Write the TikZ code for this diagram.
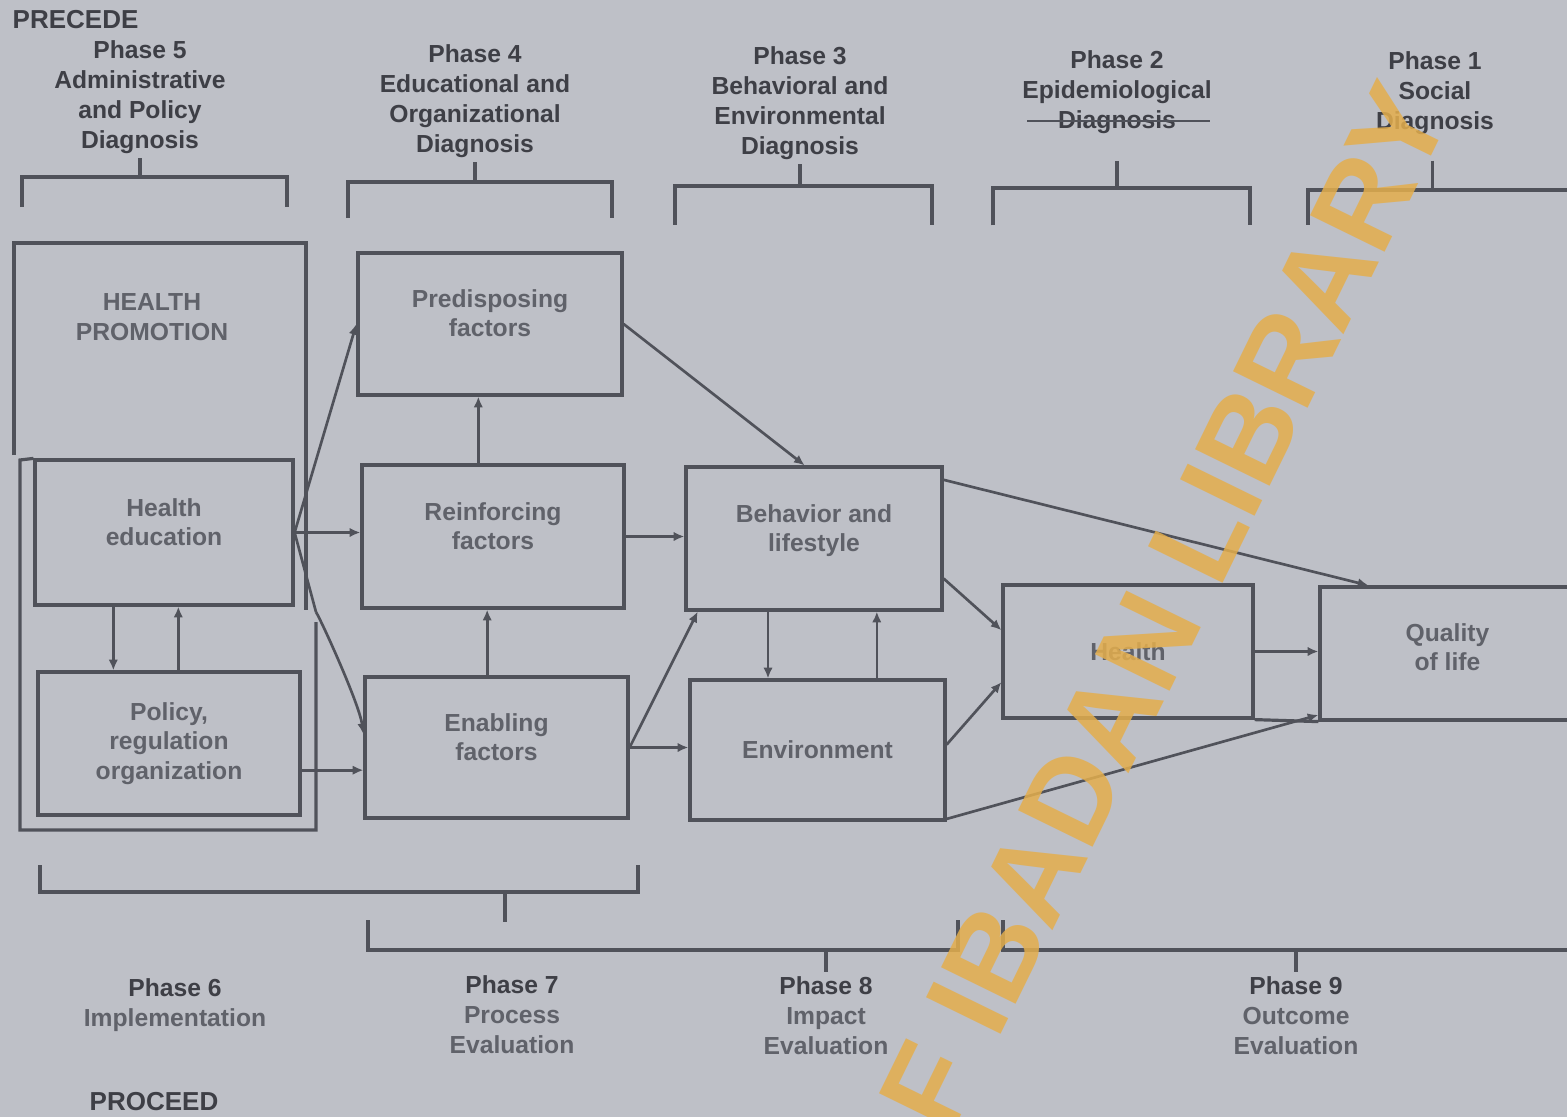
\documentclass[tikz,border=0pt]{standalone}
\usepackage{fontspec}
\setmainfont{Liberation Sans}
\usepackage{tikz}
\usetikzlibrary{positioning,arrows.meta}
\definecolor{bgc}{RGB}{190,192,199}
\definecolor{lnc}{RGB}{80,82,90}
\definecolor{txc}{RGB}{62,63,70}
\definecolor{txl}{RGB}{96,98,106}
\definecolor{wmc}{RGB}{228,174,76}

\begin{document}
\begin{tikzpicture}[x=0.75pt,y=0.75pt,yscale=-1,xscale=1,
  box/.style={draw=lnc,line width=2.4pt,text=txl,align=center,inner sep=0pt,font=\bfseries\fontsize{18.5}{22}\selectfont},
  lifted/.style={text depth=16pt},
  phase/.style={text=txc,align=center,font=\bfseries\fontsize{18.5}{22.5}\selectfont},
  bracket/.style={draw=lnc,line width=2.6pt},
  conn/.style={draw=lnc,line width=2pt,-{Latex[length=8pt,width=7pt]}},
  plain/.style={draw=lnc,line width=2pt},
  wmark/.style={text=wmc,opacity=0.85,inner sep=0pt,font=\bfseries\fontsize{90.5}{90.5}\selectfont}]
\useasboundingbox (0,0) rectangle (1567,1117);
\clip (0,0) rectangle (1567,1117);
\fill[bgc] (0,0) rectangle (1567,1117);

% Text Node
\node (precede) at (8,20) [phase,anchor=west,font=\bfseries\fontsize{19.5}{22}\selectfont] {PRECEDE};
% Text Node
\node (proceed) at (85,1102) [phase,anchor=west,font=\bfseries\fontsize{19.5}{22}\selectfont] {PROCEED};

% Text Node
\node (ph5) at (140,97) [phase] {Phase 5\\Administrative\\and Policy\\Diagnosis};
% Text Node
\node (ph4) at (475,101) [phase] {Phase 4\\Educational and\\Organizational\\Diagnosis};
% Text Node
\node (ph3) at (800,103) [phase] {Phase 3\\Behavioral and\\Environmental\\Diagnosis};
% Text Node
\node (ph2) at (1117,92) [phase] {Phase 2\\Epidemiological\\Diagnosis};
% Text Node
\node (ph1) at (1435,93) [phase] {Phase 1\\Social\\Diagnosis};

%Straight Lines
\draw[plain] (1027,121) -- (1210,121);

% Brackets top
\coordinate (b5a) at (22,177);
\coordinate (b5b) at (287,177);
\coordinate (b4a) at (348,182);
\coordinate (b4b) at (612,182);
\coordinate (b3a) at (675,186);
\coordinate (b3b) at (932,186);
\coordinate (b2a) at (993,188);
\coordinate (b2b) at (1250,188);
\coordinate (b1a) at (1308,190);
\coordinate (b1b) at (1572,190);
\draw[bracket] ([yshift=22.5pt]b5a) -- (b5a) -- (b5b) -- ([yshift=22.5pt]b5b);
\draw[bracket] ([yshift=27pt]b4a) -- (b4a) -- (b4b) -- ([yshift=27pt]b4b);
\draw[bracket] ([yshift=29pt]b3a) -- (b3a) -- (b3b) -- ([yshift=29pt]b3b);
\draw[bracket] ([yshift=28pt]b2a) -- (b2a) -- (b2b) -- ([yshift=28pt]b2b);
\draw[bracket] ([yshift=26pt]b1a) -- (b1a) -- (b1b) -- ([yshift=26pt]b1b);
\draw[bracket] (ph5.south) -- (ph5.south |- b5a);
\draw[bracket] (ph4.south) -- (ph4.south |- b4a);
\draw[bracket] (ph3.south) -- (ph3.south |- b3a);
\draw[bracket] ([yshift=17pt]ph2.south) -- (ph2.south |- b2a);
\draw[bracket] ([xshift=-2pt,yshift=16pt]ph1.south) -- ([xshift=-2pt]ph1.south |- b1a);

% Boxes
\node (hedu) at (164,532.5) [box,lifted,minimum width=193.5pt,minimum height=108.75pt] {Health\\education};
\node (pol) at (169,743.5) [box,minimum width=196.5pt,minimum height=107.25pt] {Policy,\\regulation\\organization};
\node (pre) at (490,324) [box,lifted,minimum width=198pt,minimum height=106.5pt] {Predisposing\\factors};
\node (rei) at (493,536.5) [box,lifted,minimum width=196.5pt,minimum height=107.25pt] {Reinforcing\\factors};
\node (ena) at (496.5,747.5) [box,lifted,minimum width=197.25pt,minimum height=105.75pt] {Enabling\\factors};
\node (beh) at (814,538.5) [box,lifted,minimum width=192pt,minimum height=107.25pt] {Behavior and\\lifestyle};
\node (env) at (817.5,750) [box,minimum width=191.25pt,minimum height=105pt] {Environment};
\node (hea) at (1128,651.5) [box,minimum width=187.5pt,minimum height=99.75pt] {Health};
\node (qol) at (1447.5,653.5) [box,text depth=10pt,minimum width=191.25pt,minimum height=99.75pt] {Quality\\of life};

% Health promotion frame
\draw[box] (14,455) -- (14,243) -- (306,243) -- (306,610);
\draw[box] (316,622) -- (316,830) -- (20,830) -- (20,460) -- (hedu.north west);
% Text Node
\node (hptext) at (152,317) [phase,text=txl] {HEALTH\\PROMOTION};

% Connectors
\coordinate (kink) at (316,612);
\draw[conn] (hedu.east) -- (pre.west);
\draw[conn] (hedu.east) -- (hedu.east -| rei.west);
\draw[plain] (hedu.east) -- (kink);
\draw[conn] (kink) .. controls +(6,10) and +(-4,-30) .. ([yshift=-10pt]ena.west);
\draw[conn] ([yshift=20pt]pol.east) -- ([yshift=20pt]pol.east -| ena.west);
\draw[conn] ([xshift=-38pt]hedu.south) -- ([xshift=-38pt]hedu.south |- pol.north);
\draw[conn] ([xshift=7pt]pol.north) -- ([xshift=7pt]pol.north |- hedu.south);
\draw[conn] ([xshift=-11pt]rei.north) -- ([xshift=-11pt]rei.north |- pre.south);
\draw[conn] ([xshift=-7pt]ena.north) -- ([xshift=-7pt]ena.north |- rei.south);
\draw[conn] (pre.east) -- ([xshift=-7pt]beh.north);
\draw[conn] (rei.east) -- (rei.east -| beh.west);
\draw[conn] (ena.east) -- ([xshift=10pt]beh.south west);
\draw[conn] (ena.east) -- (ena.east -| env.west);
\draw[conn] ([xshift=-34.5pt]beh.south) -- ([xshift=-34.5pt]beh.south |- env.north);
\draw[conn] ([xshift=44.5pt]env.north) -- ([xshift=44.5pt]env.north |- beh.south);
\draw[conn] ([yshift=-44pt]beh.east) -- ([xshift=37.5pt]qol.north west);
\draw[conn] ([yshift=30pt]beh.east) -- ([yshift=-16pt]hea.west);
\draw[conn] ([yshift=-4pt]env.east) -- ([yshift=23pt]hea.west);
\draw[conn] ([yshift=-2pt]env.south east) -- ([yshift=-5pt]qol.south west);
\draw[conn] (hea.east) -- (hea.east -| qol.west);
\draw[box] (hea.south east) -- (qol.south west);

% Text Node
\node (ph6) at (175,1005) [phase] {Phase 6\\{\color{txl}Implementation}};
% Text Node
\node (ph7) at (512,1015) [phase] {Phase 7\\{\color{txl}Process}\\{\color{txl}Evaluation}};
% Text Node
\node (ph8) at (826,1016) [phase] {Phase 8\\{\color{txl}Impact}\\{\color{txl}Evaluation}};
% Text Node
\node (ph9) at (1296,1016) [phase] {Phase 9\\{\color{txl}Outcome}\\{\color{txl}Evaluation}};

% Brackets bottom
\coordinate (b6a) at (40,892);
\coordinate (b6b) at (638,892);
\coordinate (b6c) at (505,892);
\coordinate (b8a) at (368,950);
\coordinate (b8b) at (958,950);
\coordinate (b9a) at (1003,950);
\coordinate (b9b) at (1572,950);
\draw[bracket] ([yshift=-20pt]b6a) -- (b6a) -- (b6b) -- ([yshift=-20pt]b6b);
\draw[bracket] (b6c) -- ++(0,30);
\draw[bracket] ([yshift=-22.5pt]b8a) -- (b8a) -- (b8b) -- ([yshift=-22.5pt]b8b);
\draw[bracket] ([yshift=-22.5pt]b9a) -- (b9a) -- (b9b);
\draw[bracket] (ph8.north |- b8a) -- (ph8.north);
\draw[bracket] (ph9.north |- b9a) -- (ph9.north);

% Watermark
\node (wm) at (1144,649) [wmark,rotate=63.9] {OF IBADAN LIBRARY};

\end{tikzpicture}
\end{document}
